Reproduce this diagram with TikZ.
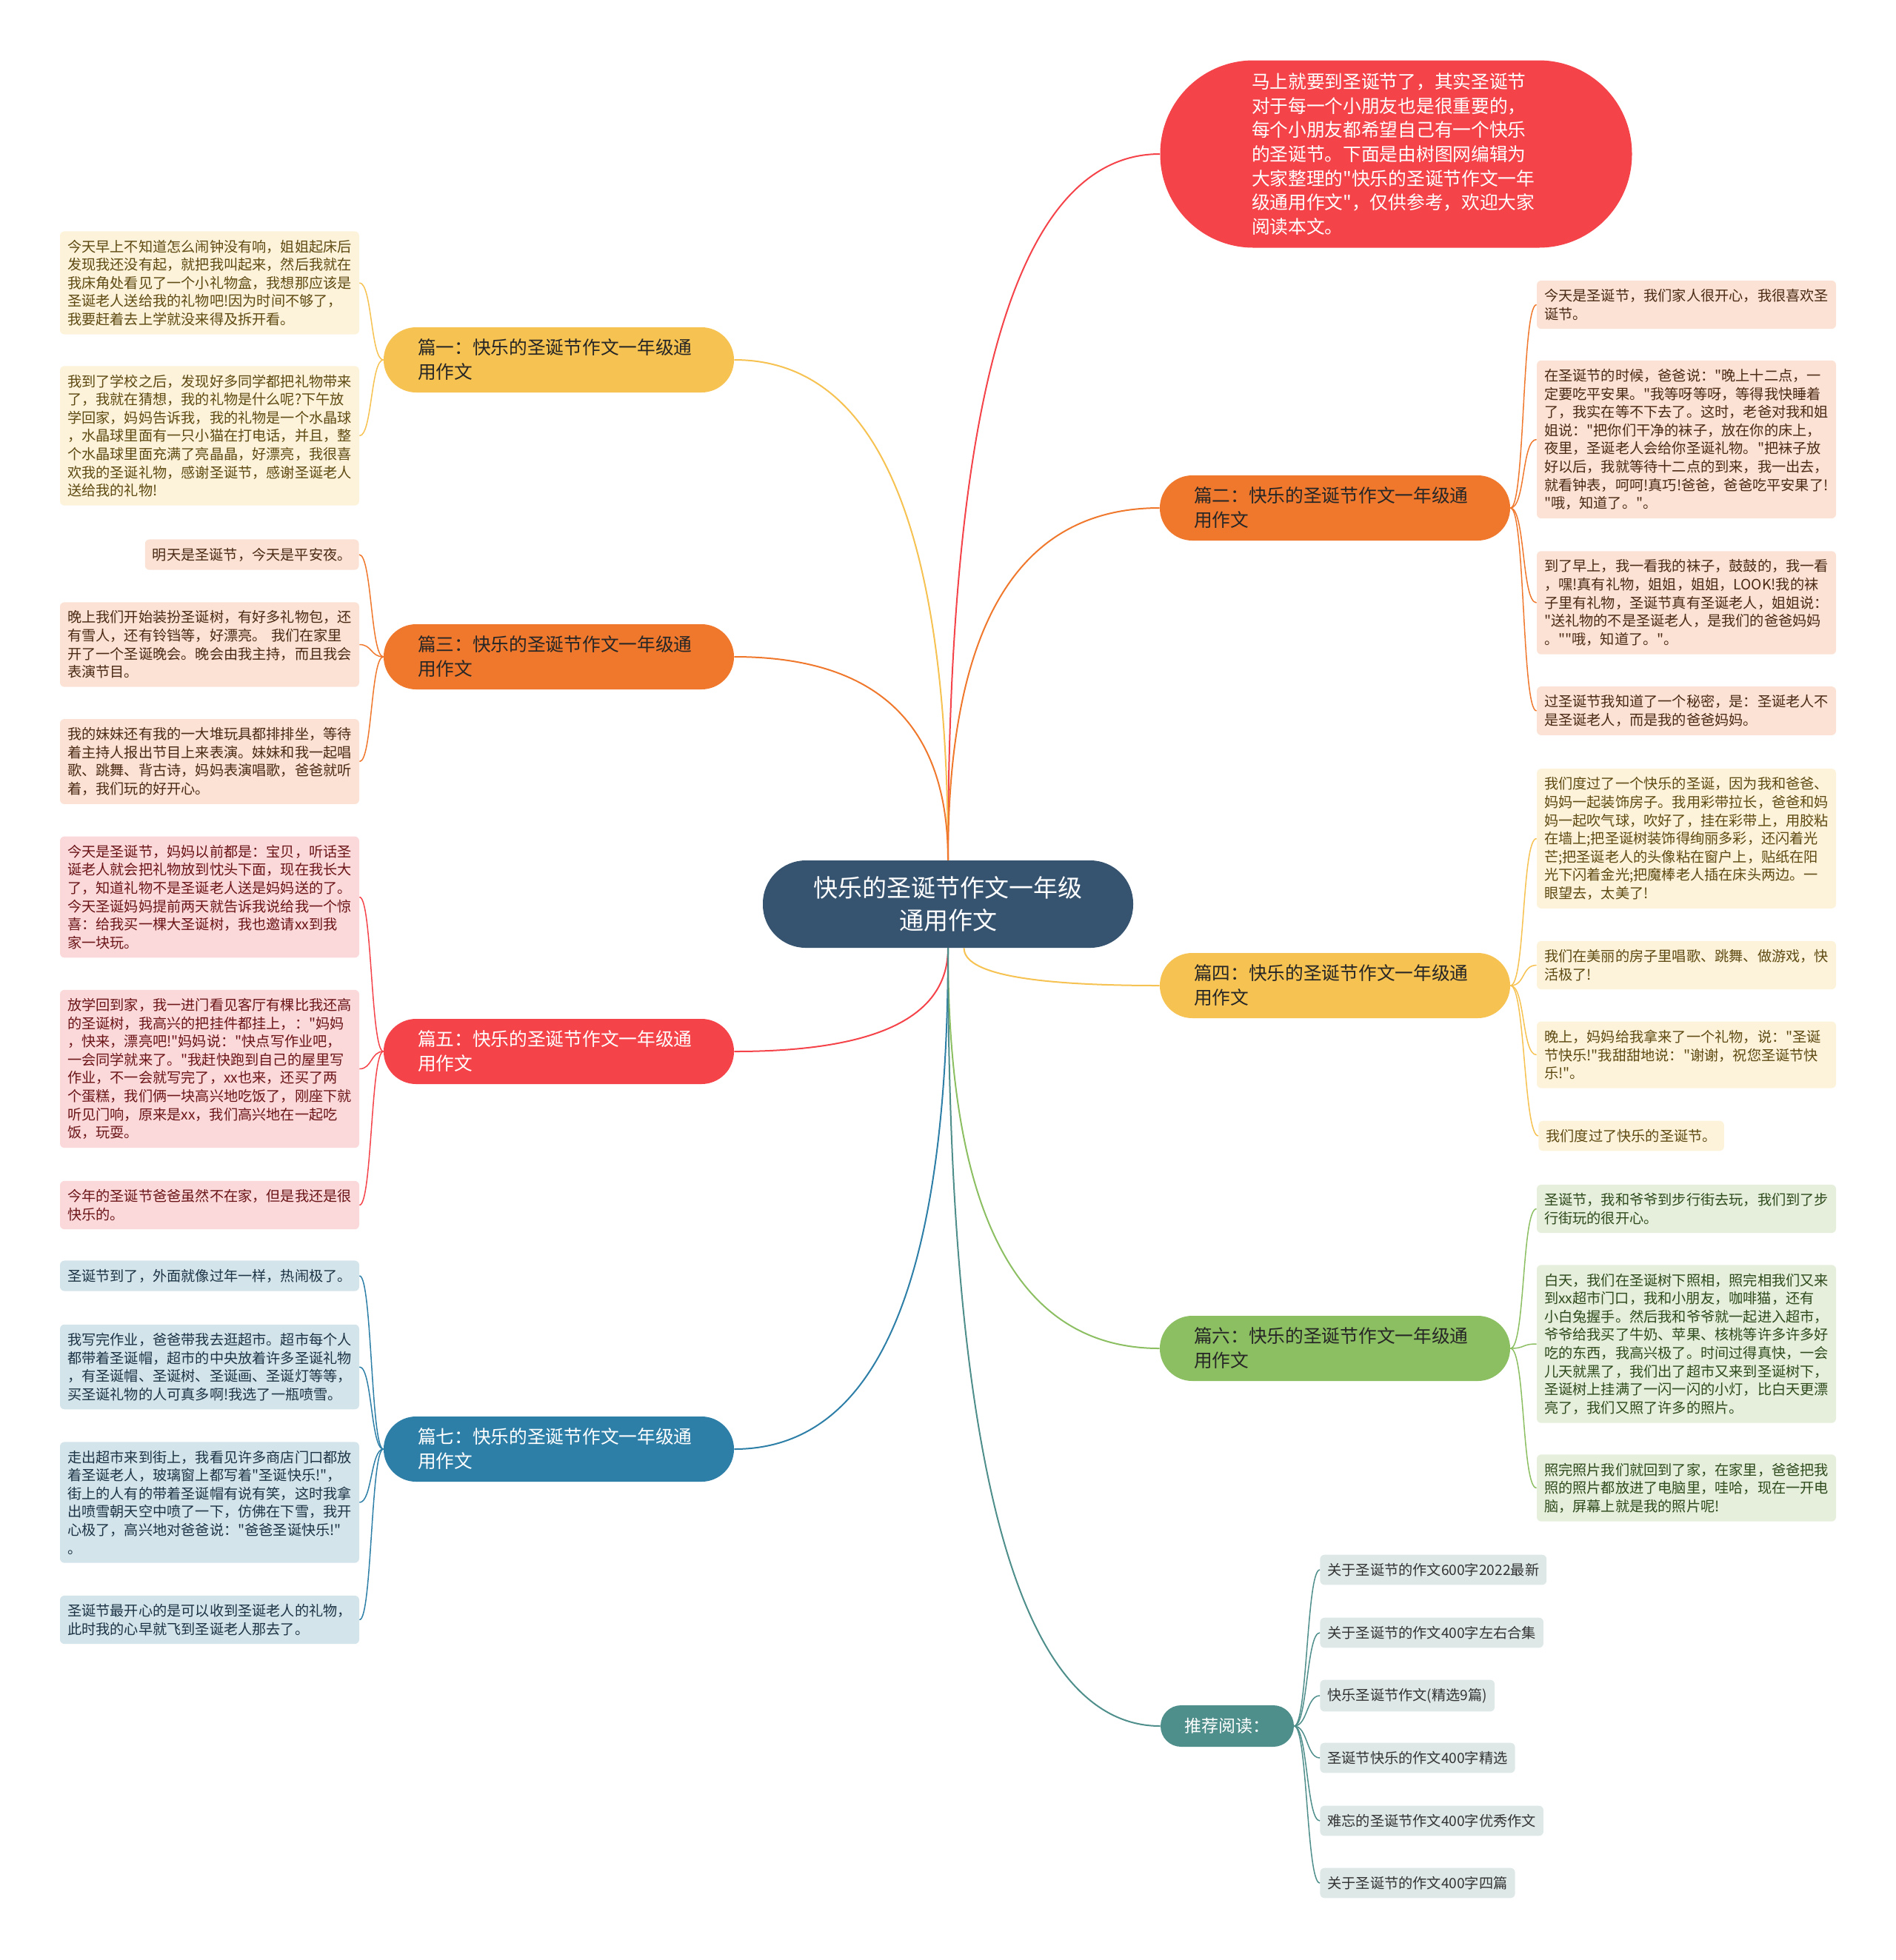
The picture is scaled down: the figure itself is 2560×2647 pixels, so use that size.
\documentclass[tikz,border=0pt]{standalone}
\usepackage{fontspec}
\newfontfamily\cjk{Noto Sans CJK SC}
\definecolor{cMain}{HTML}{36536F}
\definecolor{yMain}{HTML}{F6C251}
\definecolor{yLeaf}{HTML}{FDF3DA}
\definecolor{yText}{HTML}{5E4A12}
\definecolor{oMain}{HTML}{F0782D}
\definecolor{oLeaf}{HTML}{FCE2D4}
\definecolor{oText}{HTML}{4A2A14}
\definecolor{rMain}{HTML}{F5434A}
\definecolor{rLeaf}{HTML}{FBD9DA}
\definecolor{rText}{HTML}{6B1518}
\definecolor{bMain}{HTML}{2D7FA7}
\definecolor{bLeaf}{HTML}{D4E4EB}
\definecolor{bText}{HTML}{1C3445}
\definecolor{gMain}{HTML}{8CBF62}
\definecolor{gLeaf}{HTML}{E5EFDC}
\definecolor{gText}{HTML}{2F4A1C}
\definecolor{tMain}{HTML}{4E8E8B}
\definecolor{tLeaf}{HTML}{DDE8E7}
\definecolor{tText}{HTML}{333333}
\begin{document}
\begin{tikzpicture}[x=0.5pt,y=-0.5pt,
  leaf/.style={rounded corners=3pt,inner xsep=5pt,inner ysep=5.7pt,align=left,
    font=\cjk\fontsize{9.6}{12.3}\selectfont},
  wide/.style={text width=192pt},
  branch/.style={rounded corners=21.9pt,text width=190.5pt,inner xsep=23pt,
    minimum height=44pt,align=left,font=\cjk\fontsize{12.35}{16.5}\selectfont},
  link/.style={line width=1pt},
  twig/.style={line width=0.75pt}]
\useasboundingbox (0,0) rectangle (2560,2647);

\node[fill=cMain,text=white,rounded corners=29pt,minimum width=250pt,minimum height=59pt,
  align=center,font=\cjk\fontsize{16.5}{22}\selectfont] (c) at (1280,1221)
  {快乐的圣诞节作文一年级\\通用作文};

\node[fill=rMain,text=white,rounded corners=63pt,minimum width=318.5pt,minimum height=126.5pt,
  text width=195pt,align=left,font=\cjk\fontsize{12.35}{16.3}\selectfont] (intro) at (1885,208)
  {马上就要到圣诞节了，其实圣诞节\\对于每一个小朋友也是很重要的，\\每个小朋友都希望自己有一个快乐\\的圣诞节。下面是由树图网编辑为\\大家整理的"快乐的圣诞节作文一年\\级通用作文"，仅供参考，欢迎大家\\阅读本文。};

\node[branch,fill=yMain,text=black!85] (b1) at (754.5,486) {篇一：快乐的圣诞节作文一年级通\\用作文};
\node[branch,fill=oMain,text=black!85] (b2) at (1802.5,686) {篇二：快乐的圣诞节作文一年级通\\用作文};
\node[branch,fill=oMain,text=black!85] (b3) at (754.5,887) {篇三：快乐的圣诞节作文一年级通\\用作文};
\node[branch,fill=yMain,text=black!85] (b4) at (1802.5,1331) {篇四：快乐的圣诞节作文一年级通\\用作文};
\node[branch,fill=rMain,text=white] (b5) at (754.5,1420) {篇五：快乐的圣诞节作文一年级通\\用作文};
\node[branch,fill=gMain,text=black!85] (b6) at (1802.5,1821) {篇六：快乐的圣诞节作文一年级通\\用作文};
\node[branch,fill=bMain,text=white] (b7) at (754.5,1957) {篇七：快乐的圣诞节作文一年级通\\用作文};
\node[fill=tMain,text=white,rounded corners=13.9pt,minimum width=90pt,minimum height=28pt,
  font=\cjk\fontsize{11.5}{14}\selectfont] (rec) at (1657,2331) {推荐阅读：};

\draw[link,draw=rMain] (c.north) .. controls +(0,-636) and +(-191,0) .. (intro.west);
\draw[link,draw=yMain] (c.north) .. controls +(0,-451) and +(193,0) .. (b1.east);
\draw[link,draw=oMain] (c.north) .. controls +(0,-317) and +(-191,0) .. (b2.west);
\draw[link,draw=oMain] (c.north) .. controls +(0,-183) and +(193,0) .. (b3.east);
\draw[link,draw=yMain] (c.-70) .. controls +(0,34) and +(-177,0) .. (b4.west);
\draw[link,draw=rMain] (c.south) .. controls +(0,93) and +(193,0) .. (b5.east);
\draw[link,draw=gMain] (c.south) .. controls +(0,361) and +(-191,0) .. (b6.west);
\draw[link,draw=bMain] (c.south) .. controls +(0,451) and +(193,0) .. (b7.east);
\draw[link,draw=tMain] (c.south) .. controls +(0,701) and +(-191,0) .. (rec.west);

\node[leaf,wide,fill=yLeaf,text=yText] (l1a) at (283,382) {今天早上不知道怎么闹钟没有响，姐姐起床后\\发现我还没有起，就把我叫起来，然后我就在\\我床角处看见了一个小礼物盒，我想那应该是\\圣诞老人送给我的礼物吧!因为时间不够了，\\我要赶着去上学就没来得及拆开看。};
\node[leaf,wide,fill=yLeaf,text=yText] (l1b) at (283,588.5) {我到了学校之后，发现好多同学都把礼物带来\\了，我就在猜想，我的礼物是什么呢?下午放\\学回家，妈妈告诉我，我的礼物是一个水晶球\\，水晶球里面有一只小猫在打电话，并且，整\\个水晶球里面充满了亮晶晶，好漂亮，我很喜\\欢我的圣诞礼物，感谢圣诞节，感谢圣诞老人\\送给我的礼物!};
\draw[twig,draw=yMain] (b1.west) .. controls +(-17,0) and +(17,0) .. (l1a.east);
\draw[twig,draw=yMain] (b1.west) .. controls +(-17,0) and +(17,0) .. (l1b.east);

\node[leaf,fill=oLeaf,text=oText,anchor=east] (l3a) at (485,749) {明天是圣诞节，今天是平安夜。};
\node[leaf,wide,fill=oLeaf,text=oText] (l3b) at (283,870.5) {晚上我们开始装扮圣诞树，有好多礼物包，还\\有雪人，还有铃铛等，好漂亮。 我们在家里\\开了一个圣诞晚会。晚会由我主持，而且我会\\表演节目。};
\node[leaf,wide,fill=oLeaf,text=oText] (l3c) at (283,1028.5) {我的妹妹还有我的一大堆玩具都排排坐，等待\\着主持人报出节目上来表演。妹妹和我一起唱\\歌、跳舞、背古诗，妈妈表演唱歌，爸爸就听\\着，我们玩的好开心。};
\draw[twig,draw=oMain] (b3.west) .. controls +(-17,0) and +(17,0) .. (l3a.east);
\draw[twig,draw=oMain] (b3.west) .. controls +(-17,0) and +(17,0) .. (l3b.east);
\draw[twig,draw=oMain] (b3.west) .. controls +(-17,0) and +(17,0) .. (l3c.east);

\node[leaf,wide,fill=rLeaf,text=rText] (l5a) at (283,1211.5) {今天是圣诞节，妈妈以前都是：宝贝，听话圣\\诞老人就会把礼物放到忱头下面，现在我长大\\了，知道礼物不是圣诞老人送是妈妈送的了。\\今天圣诞妈妈提前两天就告诉我说给我一个惊\\喜：给我买一棵大圣诞树，我也邀请xx到我\\家一块玩。};
\node[leaf,wide,fill=rLeaf,text=rText] (l5b) at (283,1443.5) {放学回到家，我一进门看见客厅有棵比我还高\\的圣诞树，我高兴的把挂件都挂上，："妈妈\\，快来，漂亮吧!"妈妈说："快点写作业吧，\\一会同学就来了。"我赶快跑到自己的屋里写\\作业，不一会就写完了，xx也来，还买了两\\个蛋糕，我们俩一块高兴地吃饭了，刚座下就\\听见门响，原来是xx，我们高兴地在一起吃\\饭，玩耍。};
\node[leaf,wide,fill=rLeaf,text=rText] (l5c) at (283,1627.5) {今年的圣诞节爸爸虽然不在家，但是我还是很\\快乐的。};
\draw[twig,draw=rMain] (b5.west) .. controls +(-17,0) and +(17,0) .. (l5a.east);
\draw[twig,draw=rMain] (b5.west) .. controls +(-17,0) and +(17,0) .. (l5b.east);
\draw[twig,draw=rMain] (b5.west) .. controls +(-17,0) and +(17,0) .. (l5c.east);

\node[leaf,wide,fill=bLeaf,text=bText] (l7a) at (283,1723) {圣诞节到了，外面就像过年一样，热闹极了。};
\node[leaf,wide,fill=bLeaf,text=bText] (l7b) at (283,1846) {我写完作业，爸爸带我去逛超市。超市每个人\\都带着圣诞帽，超市的中央放着许多圣诞礼物\\，有圣诞帽、圣诞树、圣诞画、圣诞灯等等，\\买圣诞礼物的人可真多啊!我选了一瓶喷雪。};
\node[leaf,wide,fill=bLeaf,text=bText] (l7c) at (283,2029) {走出超市来到街上，我看见许多商店门口都放\\着圣诞老人，玻璃窗上都写着"圣诞快乐!"，\\街上的人有的带着圣诞帽有说有笑，这时我拿\\出喷雪朝天空中喷了一下，仿佛在下雪，我开\\心极了，高兴地对爸爸说："爸爸圣诞快乐!"\\。};
\node[leaf,wide,fill=bLeaf,text=bText] (l7d) at (283,2187.5) {圣诞节最开心的是可以收到圣诞老人的礼物，\\此时我的心早就飞到圣诞老人那去了。};
\draw[twig,draw=bMain] (b7.west) .. controls +(-17,0) and +(17,0) .. (l7a.east);
\draw[twig,draw=bMain] (b7.west) .. controls +(-17,0) and +(17,0) .. (l7b.east);
\draw[twig,draw=bMain] (b7.west) .. controls +(-17,0) and +(17,0) .. (l7c.east);
\draw[twig,draw=bMain] (b7.west) .. controls +(-17,0) and +(17,0) .. (l7d.east);

\node[leaf,wide,fill=oLeaf,text=oText] (r2a) at (2277,411.5) {今天是圣诞节，我们家人很开心，我很喜欢圣\\诞节。};
\node[leaf,wide,fill=oLeaf,text=oText] (r2b) at (2277,593.5) {在圣诞节的时候，爸爸说："晚上十二点，一\\定要吃平安果。"我等呀等呀，等得我快睡着\\了，我实在等不下去了。这时，老爸对我和姐\\姐说："把你们干净的袜子，放在你的床上，\\夜里，圣诞老人会给你圣诞礼物。"把袜子放\\好以后，我就等待十二点的到来，我一出去，\\就看钟表，呵呵!真巧!爸爸，爸爸吃平安果了!\\"哦，知道了。"。};
\node[leaf,wide,fill=oLeaf,text=oText] (r2c) at (2277,814) {到了早上，我一看我的袜子，鼓鼓的，我一看\\，嘿!真有礼物，姐姐，姐姐，LOOK!我的袜\\子里有礼物，圣诞节真有圣诞老人，姐姐说：\\"送礼物的不是圣诞老人，是我们的爸爸妈妈\\。""哦，知道了。"。};
\node[leaf,wide,fill=oLeaf,text=oText] (r2d) at (2277,960) {过圣诞节我知道了一个秘密，是：圣诞老人不\\是圣诞老人，而是我的爸爸妈妈。};
\draw[twig,draw=oMain] (b2.east) .. controls +(20,0) and +(-20,0) .. (r2a.west);
\draw[twig,draw=oMain] (b2.east) .. controls +(20,0) and +(-20,0) .. (r2b.west);
\draw[twig,draw=oMain] (b2.east) .. controls +(20,0) and +(-20,0) .. (r2c.west);
\draw[twig,draw=oMain] (b2.east) .. controls +(20,0) and +(-20,0) .. (r2d.west);

\node[leaf,wide,fill=yLeaf,text=yText] (r4a) at (2277,1132.5) {我们度过了一个快乐的圣诞，因为我和爸爸、\\妈妈一起装饰房子。我用彩带拉长，爸爸和妈\\妈一起吹气球，吹好了，挂在彩带上，用胶粘\\在墙上;把圣诞树装饰得绚丽多彩，还闪着光\\芒;把圣诞老人的头像粘在窗户上，贴纸在阳\\光下闪着金光;把魔棒老人插在床头两边。一\\眼望去，太美了!};
\node[leaf,wide,fill=yLeaf,text=yText] (r4b) at (2277,1303.5) {我们在美丽的房子里唱歌、跳舞、做游戏，快\\活极了!};
\node[leaf,wide,fill=yLeaf,text=yText] (r4c) at (2277,1424.5) {晚上，妈妈给我拿来了一个礼物，说："圣诞\\节快乐!"我甜甜地说："谢谢，祝您圣诞节快\\乐!"。};
\node[leaf,fill=yLeaf,text=yText,anchor=west] (r4d) at (2077,1534) {我们度过了快乐的圣诞节。};
\draw[twig,draw=yMain] (b4.east) .. controls +(20,0) and +(-20,0) .. (r4a.west);
\draw[twig,draw=yMain] (b4.east) .. controls +(20,0) and +(-20,0) .. (r4b.west);
\draw[twig,draw=yMain] (b4.east) .. controls +(20,0) and +(-20,0) .. (r4c.west);
\draw[twig,draw=yMain] (b4.east) .. controls +(20,0) and +(-20,0) .. (r4d.west);

\node[leaf,wide,fill=gLeaf,text=gText] (r6a) at (2277,1632.5) {圣诞节，我和爷爷到步行街去玩，我们到了步\\行街玩的很开心。};
\node[leaf,wide,fill=gLeaf,text=gText] (r6b) at (2277,1815) {白天，我们在圣诞树下照相，照完相我们又来\\到xx超市门口，我和小朋友，咖啡猫，还有\\小白兔握手。然后我和爷爷就一起进入超市，\\爷爷给我买了牛奶、苹果、核桃等许多许多好\\吃的东西，我高兴极了。时间过得真快，一会\\儿天就黑了，我们出了超市又来到圣诞树下，\\圣诞树上挂满了一闪一闪的小灯，比白天更漂\\亮了，我们又照了许多的照片。};
\node[leaf,wide,fill=gLeaf,text=gText] (r6c) at (2277,2009.5) {照完照片我们就回到了家，在家里，爸爸把我\\照的照片都放进了电脑里，哇哈，现在一开电\\脑，屏幕上就是我的照片呢!};
\draw[twig,draw=gMain] (b6.east) .. controls +(20,0) and +(-20,0) .. (r6a.west);
\draw[twig,draw=gMain] (b6.east) .. controls +(20,0) and +(-20,0) .. (r6b.west);
\draw[twig,draw=gMain] (b6.east) .. controls +(20,0) and +(-20,0) .. (r6c.west);

\node[leaf,fill=tLeaf,text=tText,anchor=west] (t1) at (1782,2120) {关于圣诞节的作文600字2022最新};
\node[leaf,fill=tLeaf,text=tText,anchor=west] (t2) at (1782,2205) {关于圣诞节的作文400字左右合集};
\node[leaf,fill=tLeaf,text=tText,anchor=west] (t3) at (1782,2290) {快乐圣诞节作文(精选9篇)};
\node[leaf,fill=tLeaf,text=tText,anchor=west] (t4) at (1782,2374) {圣诞节快乐的作文400字精选};
\node[leaf,fill=tLeaf,text=tText,anchor=west] (t5) at (1782,2459) {难忘的圣诞节作文400字优秀作文};
\node[leaf,fill=tLeaf,text=tText,anchor=west] (t6) at (1782,2543) {关于圣诞节的作文400字四篇};
\draw[twig,draw=tMain] (rec.east) .. controls +(18,0) and +(-18,0) .. (t1.west);
\draw[twig,draw=tMain] (rec.east) .. controls +(18,0) and +(-18,0) .. (t2.west);
\draw[twig,draw=tMain] (rec.east) .. controls +(18,0) and +(-18,0) .. (t3.west);
\draw[twig,draw=tMain] (rec.east) .. controls +(18,0) and +(-18,0) .. (t4.west);
\draw[twig,draw=tMain] (rec.east) .. controls +(18,0) and +(-18,0) .. (t5.west);
\draw[twig,draw=tMain] (rec.east) .. controls +(18,0) and +(-18,0) .. (t6.west);
\end{tikzpicture}
\end{document}
